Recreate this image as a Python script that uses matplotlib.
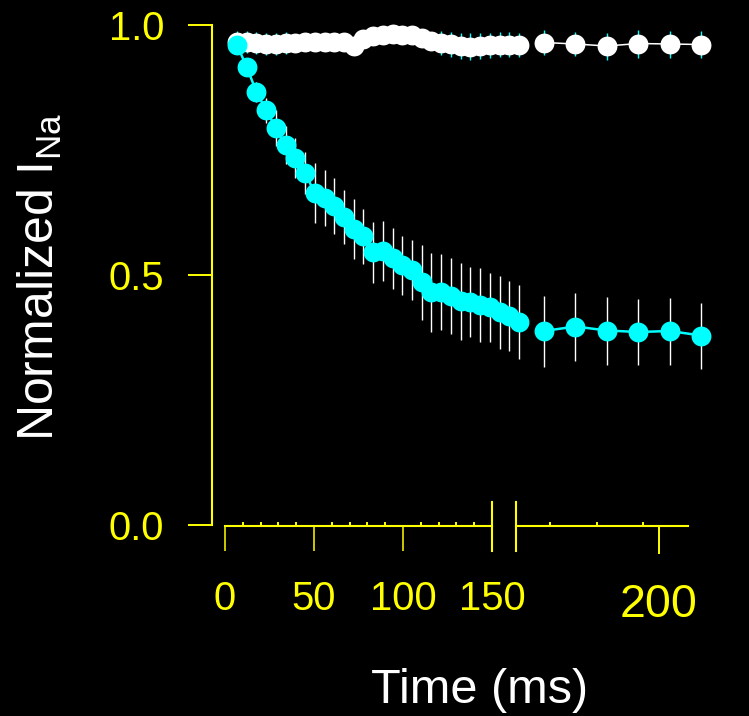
import matplotlib
matplotlib.use("Agg")
import matplotlib.pyplot as plt
from matplotlib.ticker import FixedLocator

plt.rcParams['font.family'] = ['Liberation Sans', 'DejaVu Sans']
plt.rcParams['mathtext.fontset'] = 'custom'
plt.rcParams['mathtext.rm'] = 'Liberation Sans'

# ---------------- data ----------------
t_left = [5, 10, 15, 20, 25, 30, 35, 40, 45, 50, 55, 60, 65, 70, 75,
          80, 85, 90, 95, 100, 105, 110, 115, 120, 125, 130, 135, 140, 145, 150]
t_right = [160, 170, 180, 190, 200, 210]

white_left = [0.966, 0.966, 0.964, 0.963, 0.963, 0.964, 0.965, 0.966, 0.966, 0.966,
              0.967, 0.966, 0.959, 0.972, 0.979, 0.981, 0.982, 0.981, 0.980, 0.974,
              0.969, 0.964, 0.962, 0.959, 0.957, 0.959, 0.960, 0.961, 0.961, 0.961]
white_left_err = [0.022, 0.022, 0.022, 0.022, 0.022, 0.022, 0.015, 0.015, 0.015, 0.015,
                  0.015, 0.015, 0.015, 0.015, 0.015, 0.015, 0.015, 0.015, 0.015, 0.015,
                  0.015, 0.024, 0.025, 0.026, 0.027, 0.026, 0.025, 0.025, 0.025, 0.024]
white_right = [0.965, 0.962, 0.958, 0.963, 0.962, 0.961]
white_right_err = [0.025, 0.024, 0.027, 0.028, 0.027, 0.027]

cyan_left = [0.960, 0.916, 0.866, 0.830, 0.794, 0.760, 0.734, 0.704, 0.664, 0.654,
             0.638, 0.616, 0.592, 0.578, 0.546, 0.548, 0.534, 0.520, 0.510, 0.486,
             0.466, 0.466, 0.458, 0.448, 0.446, 0.440, 0.436, 0.426, 0.418, 0.406]
cyan_left_err = [0.008, 0.015, 0.020, 0.025, 0.035, 0.038, 0.040, 0.042, 0.059, 0.056,
                 0.055, 0.054, 0.060, 0.055, 0.061, 0.060, 0.061, 0.059, 0.060, 0.075,
                 0.079, 0.076, 0.076, 0.077, 0.070, 0.074, 0.069, 0.073, 0.070, 0.074]
cyan_right = [0.388, 0.397, 0.389, 0.386, 0.388, 0.379]
cyan_right_err = [0.071, 0.068, 0.068, 0.066, 0.067, 0.066]

y_ticks = [0.0, 0.5, 1.0]
y_ticklabels = ['0.0', '0.5', '1.0']
x_ticks_left = [0, 50, 100, 150]
x_minor_left = [10, 20, 30, 40, 60, 70, 80, 90, 110, 120, 130, 140]
x_ticks_right = [200]
x_minor_right = [165, 180, 195]

YEL = '#ffff00'
CYAN = '#00ffff'
W, H = 749, 716


def box(x0, y0, x1, y1):
    # pixel box (top-left origin) -> figure fraction rect
    return [x0 / W, 1 - y1 / H, (x1 - x0) / W, (y1 - y0) / H]


fig = plt.figure(figsize=(W / 100, H / 100), dpi=100, facecolor='black')

axL = fig.add_axes(box(212, 25, 530, 525))
axR = fig.add_axes(box(530, 25, 720, 525))
for ax in (axL, axR):
    ax.set_facecolor('none')
    ax.set_ylim(0, 1)
    for s in ax.spines.values():
        s.set_visible(False)
axL.set_xlim(-7.86, 155.66)
axR.set_xlim(155.54, 216.05)
axR.set_xticks([])
axR.set_yticks([])
axL.set_xticks([])

# y axis
axL.spines['left'].set_visible(True)
axL.spines['left'].set_color(YEL)
axL.spines['left'].set_linewidth(1.5)
axL.set_yticks(y_ticks)
axL.set_yticklabels(y_ticklabels)
axL.tick_params(axis='y', direction='out', length=17.3, width=1.4, color=YEL,
                labelcolor=YEL, labelsize=28.8, pad=17)


def series(ax, t, v, e, face, ecol, lw):
    ax.errorbar(t, v, yerr=e, fmt='o-', color=face, ms=14.3, mew=0, lw=lw,
                ecolor=ecol, elinewidth=1.0, capsize=2.9, capthick=1.2, clip_on=False)


series(axL, t_left, white_left, white_left_err, 'white', CYAN, 1.1)
series(axR, t_right, white_right, white_right_err, 'white', CYAN, 1.1)
series(axL, t_left, cyan_left, cyan_left_err, CYAN, 'white', 1.8)
series(axR, t_right, cyan_right, cyan_right_err, CYAN, 'white', 1.8)

# broken time axis
dL = fig.add_axes(box(225, 502, 492, 526))
dR = fig.add_axes(box(516, 502, 688, 526))
for d in (dL, dR):
    d.set_facecolor('none')
    d.set_ylim(0, 1)
    d.set_yticks([])
    for k in ('top', 'left', 'right'):
        d.spines[k].set_visible(False)
    d.spines['bottom'].set_color(YEL)
    d.spines['bottom'].set_linewidth(1.5)

dL.set_xlim(0, 150)
dL.xaxis.set_major_locator(FixedLocator(x_ticks_left))
dL.xaxis.set_minor_locator(FixedLocator(x_minor_left))
dL.set_xticklabels([str(v) for v in x_ticks_left])
dL.tick_params(axis='x', which='major', direction='out', length=18, width=1.1,
               color=YEL, labelcolor=YEL, labelsize=28.8, pad=21)
dL.tick_params(axis='x', which='minor', direction='in', length=2.9, width=1.4, color=YEL)
dL.axvline(150, ymin=-1.04, ymax=1, color=YEL, lw=1.5, clip_on=False)

dR.set_xlim(154, 209.5)
dR.xaxis.set_major_locator(FixedLocator(x_ticks_right))
dR.xaxis.set_minor_locator(FixedLocator(x_minor_right))
dR.set_xticklabels([str(v) for v in x_ticks_right])
dR.tick_params(axis='x', which='major', direction='out', length=20, width=1.4,
               color=YEL, labelcolor=YEL, labelsize=33.5, pad=21)
dR.tick_params(axis='x', which='minor', direction='in', length=2.9, width=1.4, color=YEL)
dR.axvline(154, ymin=-1.04, ymax=1, color=YEL, lw=1.5, clip_on=False)

fig.text(40 / W, 1 - 277 / H, r'Normalized I$_{\mathrm{Na}}$', rotation=90,
         ha='center', va='center', color='white', fontsize=36)
fig.text(480 / W, 1 - 703 / H, 'Time (ms)', ha='center', va='baseline',
         color='white', fontsize=35)

fig.savefig('out.png', dpi=100, facecolor='black')
